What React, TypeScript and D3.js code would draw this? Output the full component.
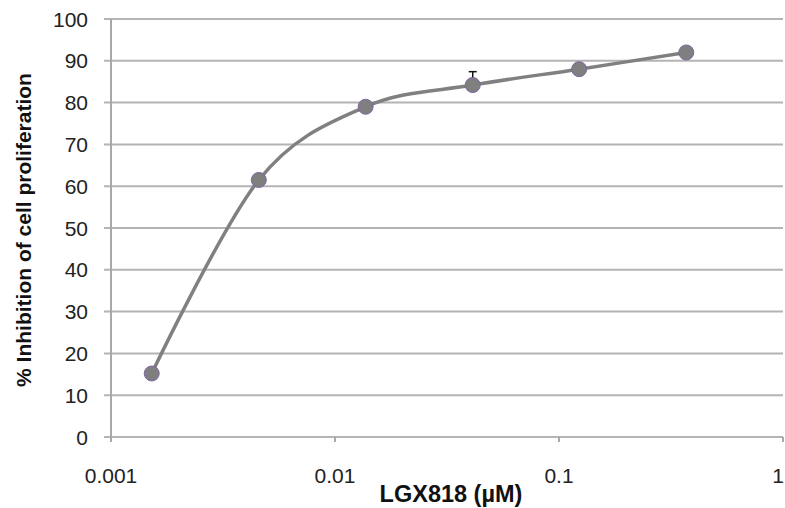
import React from "react";
import * as d3 from "d3";

const concentrations = [0.00152, 0.00457, 0.0137, 0.0412, 0.123, 0.37];
const inhibition = [15.2, 61.5, 79.0, 84.2, 88.0, 92.0];
const errorsPlus = [0, 0, 0, 3.2, 0, 0];
const yTicks = [0, 10, 20, 30, 40, 50, 60, 70, 80, 90, 100];
const xTicks = [0.001, 0.01, 0.1, 1];
const xTickLabels = ["0.001", "0.01", "0.1", "1"];
const xTitle = "LGX818 (\u00b5M)";
const yTitle = "% Inhibition of cell proliferation";

const W = 785;
const H = 508;
const left = 111;
const right = 783;
const top = 19;
const bottom = 437;

export default function App() {
  const x = d3.scaleLog().domain([0.001, 1]).range([left, right]);
  const y = d3.scaleLinear().domain([0, 100]).range([bottom, top]);
  const pts = concentrations.map((c, i) => [x(c), y(inhibition[i])] as [number, number]);
  const line = d3.line().curve(d3.curveCatmullRom.alpha(0))(pts) || "";
  const font = "'Liberation Sans', Arial, sans-serif";
  return (
    <svg width={W} height={H} style={{ position: "absolute", left: 0, top: 0, background: "#fff" }}>
      {yTicks.map((t) => (
        <g key={t}>
          <line x1={left - 7} x2={right} y1={y(t)} y2={y(t)} stroke="#b4b4b4" strokeWidth={2} />
          <text x={88} y={y(t)} dy="0.36em" textAnchor="end" fontFamily={font} fontSize={21} fill="#222">
            {t}
          </text>
        </g>
      ))}
      <line x1={left} x2={left} y1={top} y2={bottom + 5} stroke="#a8a8a8" strokeWidth={2} />
      {xTicks.map((t, i) => {
        const last = i === xTicks.length - 1;
        return (
          <g key={t}>
            <line x1={x(t)} x2={x(t)} y1={bottom} y2={bottom + 5} stroke="#a8a8a8" strokeWidth={2} />
            <text
              x={last ? W - 1 : x(t)}
              y={483}
              textAnchor={last ? "end" : "middle"}
              fontFamily={font}
              fontSize={21}
              fill="#222"
            >
              {xTickLabels[i]}
            </text>
          </g>
        );
      })}
      <path d={line} fill="none" stroke="#808080" strokeWidth={3.5} />
      {concentrations.map((c, i) =>
        errorsPlus[i] > 0 ? (
          <g key={"e" + i}>
            <line x1={x(c)} x2={x(c)} y1={y(inhibition[i])} y2={y(inhibition[i] + errorsPlus[i])} stroke="#111" strokeWidth={1.5} />
            <line x1={x(c) - 4} x2={x(c) + 4} y1={y(inhibition[i] + errorsPlus[i])} y2={y(inhibition[i] + errorsPlus[i])} stroke="#111" strokeWidth={1.5} />
          </g>
        ) : null
      )}
      {pts.map((p, i) => (
        <circle key={i} cx={p[0]} cy={p[1]} r={7.5} fill="#7f7f7f" stroke="#8064a2" strokeWidth={1} />
      ))}
      <text x={451} y={502} textAnchor="middle" fontFamily={font} fontWeight="bold" fontSize={23.5} fill="#111">
        {xTitle}
      </text>
      <text
        transform={`translate(31, 230) rotate(-90)`}
        textAnchor="middle"
        fontFamily={font}
        fontWeight="bold"
        fontSize={21}
        fill="#111"
      >
        {yTitle}
      </text>
    </svg>
  );
}
